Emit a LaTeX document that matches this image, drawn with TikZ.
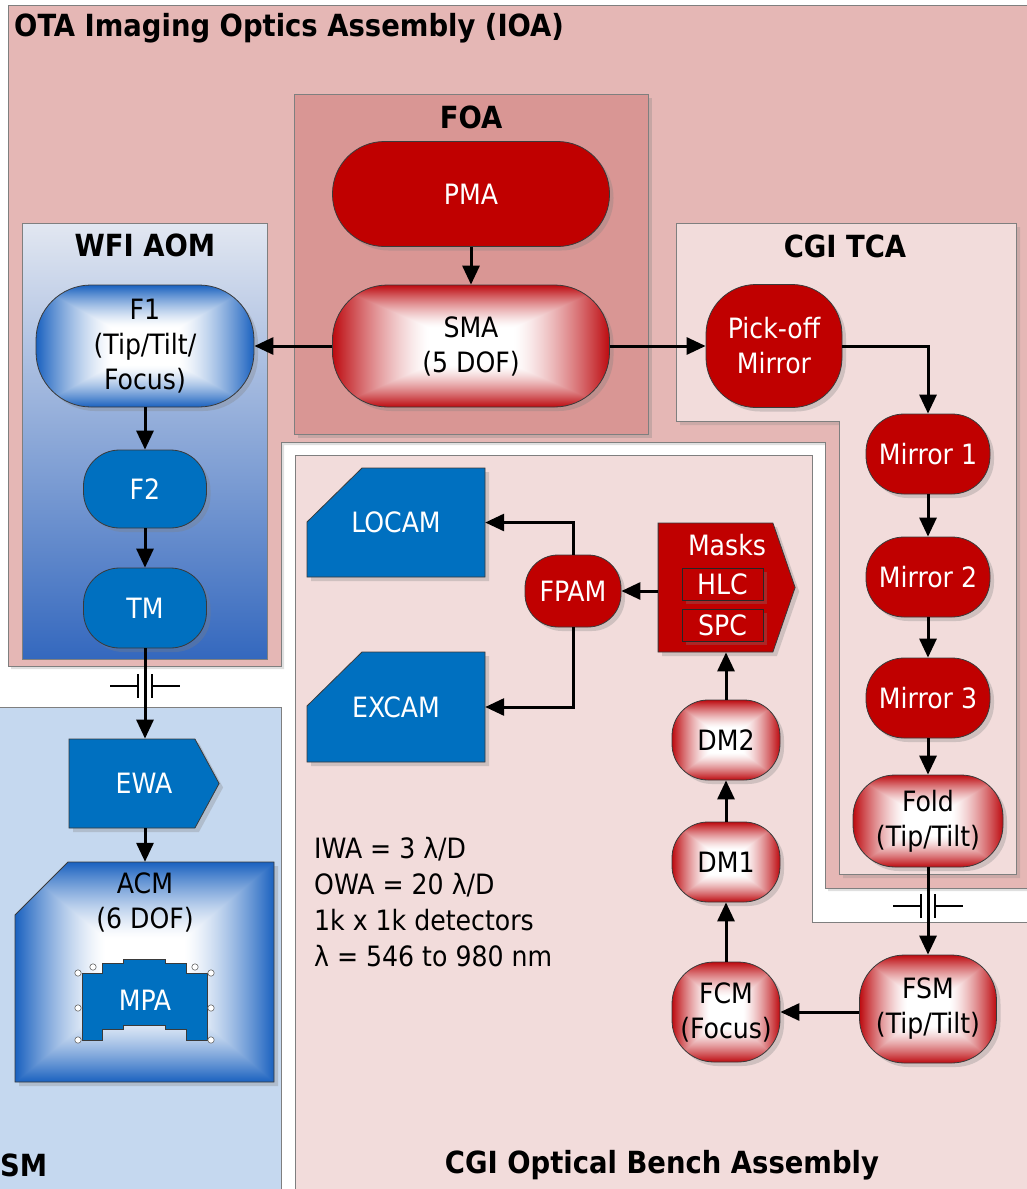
\documentclass[tikz,border=0pt]{standalone}
\usepackage{fontspec}
\setmainfont{DejaVu Sans Condensed}
\usetikzlibrary{arrows.meta,shapes.symbols,shadows}

\definecolor{ioapink}{HTML}{E5B7B5}
\definecolor{foapink}{HTML}{D99694}
\definecolor{tcapink}{HTML}{F2DCDB}
\definecolor{smblue}{HTML}{C5D8EF}
\definecolor{darkred}{HTML}{C00000}
\definecolor{vblue}{HTML}{0070C0}
\definecolor{boxedge}{HTML}{7F7F7F}
\definecolor{unitedge}{HTML}{3A3A3A}
\definecolor{aomtop}{RGB}{226,231,241}
\definecolor{aommid}{RGB}{170,190,226}
\definecolor{aombottom}{RGB}{52,104,190}

% white centre fading out to a coloured rim (max-norm, so the seams run diagonally);
% the path's bounding box covers -25bp..25bp of the shading
\pgfdeclarefunctionalshading{redshine}{\pgfpoint{-50bp}{-50bp}}{\pgfpoint{50bp}{50bp}}{}{%
  abs exch abs 2 copy lt {exch} if pop
  25 div 0.3 sub 0.7 div dup 0 lt {pop 0} if dup 1 gt {pop 1} if 1.4 exp
  dup 0.26 mul 1 exch sub exch dup 0.96 mul 1 exch sub exch 0.94 mul 1 exch sub}
\pgfdeclarefunctionalshading{blueshine}{\pgfpoint{-50bp}{-50bp}}{\pgfpoint{50bp}{50bp}}{}{%
  abs exch abs 2 copy lt {exch} if pop
  25 div 0.3 sub 0.7 div dup 0 lt {pop 0} if dup 1 gt {pop 1} if 1.4 exp
  dup 0.90 mul 1 exch sub exch dup 0.62 mul 1 exch sub exch 0.25 mul 1 exch sub}

\newcommand\unitfont{\fontsize{28}{35}\selectfont}
\newcommand\titlefont{\fontsize{30.5}{36}\selectfont\bfseries}

\begin{document}
\begin{tikzpicture}[x=1pt, y=-1pt,
    every node/.style={font=\unitfont},
    unit/.style={draw=unitedge, line width=0.8pt, align=center, inner sep=0pt,
      drop shadow={shadow xshift=4pt, shadow yshift=-4pt, opacity=0.3}},
    pill/.style={unit, rectangle, rounded corners=#1},
    pill/.default=36pt,
    redsolid/.style={fill=darkred, text=white},
    bluesolid/.style={fill=vblue, text=white},
    redglow/.style={shade, shading=redshine, text=black},
    blueglow/.style={shade, shading=blueshine, text=black},
    arrowbox/.style={unit, signal, signal to=east},
    anchorbox/.style={rectangle, inner sep=0pt, align=center},
    region/.style={draw=boxedge, line width=1pt},
    title/.style={font=\titlefont, inner sep=0pt},
    flow/.style={line width=3pt, -{Triangle[length=19pt, width=17pt]}},
    handle/.style={draw=black!60, fill=white, line width=0.6pt},
    isobreak/.pic={
      \draw[line width=2.8pt] (-7,-12) -- (-7,12) (7,-12) -- (7,12)
        (-35,0) -- (-7,0) (7,0) -- (35,0);
    }
  ]
  \useasboundingbox (0,0) rectangle (1026,1189);

  % Regions
  \draw[region, fill=ioapink, drop shadow={shadow xshift=3pt, shadow yshift=-3pt, opacity=0.25}]
    (8,5) -- (1040,5) -- (1040,888) -- (825,888) -- (825,442)
    -- (281,442) -- (281,666) -- (8,666) -- cycle;
  \draw[region, fill=smblue] (-10,707) rectangle (281,1200);
  \draw[region, fill=tcapink] (295,455) -- (812,455) -- (812,922)
    -- (1040,922) -- (1040,1200) -- (295,1200) -- cycle;
  \draw[region, fill=foapink, drop shadow={shadow xshift=4pt, shadow yshift=-4pt, opacity=0.3}]
    (294,94) rectangle (648,434);
  \draw[region, top color=aomtop, middle color=aommid, bottom color=aombottom]
    (22,223) rectangle (267,659);
  \draw[region, fill=tcapink, drop shadow={shadow xshift=4pt, shadow yshift=-4pt, opacity=0.25}]
    (676,223) -- (1016,223) -- (1016,874) -- (839,874) -- (839,421)
    -- (676,421) -- cycle;

  % Region titles
  \node[title, anchor=west] (ioa-title) at (14,28) {OTA Imaging Optics Assembly (IOA)};
  \node[title] (foa-title) at (471,117) {FOA};
  \node[title] (aom-title) at (145,245) {WFI AOM};
  \node[title] (tca-title) at (845,246) {CGI TCA};
  \node[title] (ob-title) at (662,1165) {CGI Optical Bench Assembly};
  \node[title, anchor=west] (sm-title) at (0,1165) {SM};

  % Cut-corner units
  \draw[unit, blueglow] (15,915) -- (68,862) -- (274,862) -- (274,1082) -- (15,1082) -- cycle;
  \draw[unit, bluesolid] (307,522) -- (362,468) -- (485,468) -- (485,577) -- (307,577) -- cycle;
  \draw[unit, bluesolid] (307,706) -- (362,652) -- (485,652) -- (485,762) -- (307,762) -- cycle;
  \node[anchorbox, minimum width=259pt, minimum height=220pt] (acm) at (144.5,972) {};
  \node[anchorbox, text=white, minimum width=178pt, minimum height=110pt] (locam) at (396,522.5) {LOCAM};
  \node[anchorbox, text=white, minimum width=178pt, minimum height=110pt] (excam) at (396,707) {EXCAM};
  \node[align=center] (acm-text) at (145,902) {ACM\\(6 DOF)};

  % MPA with its selection handles
  \draw[unitedge, line width=0.8pt, fill=vblue]
    (82,973) -- (102,973) -- (102,963) -- (123,963) -- (123,959) -- (165,959)
    -- (165,963) -- (186,963) -- (186,973) -- (207,973) -- (207,1040) -- (186,1040)
    -- (186,1029) -- (165,1029) -- (165,1025) -- (123,1025) -- (123,1029)
    -- (102,1029) -- (102,1040) -- (82,1040) -- cycle;
  \foreach \hx/\hy in {78/973, 78/1008, 78/1040, 211/973, 211/1008, 211/1040, 93/967, 195/967}
    \draw[handle] (\hx,\hy) circle[radius=3.2pt];
  \node[text=white] (mpa) at (145,1000) {MPA};

  % Nodes
  \node[pill=52pt, redsolid, minimum width=277pt, minimum height=105pt] (pma) at (471,194) {PMA};
  \node[pill=55pt, redglow, minimum width=277pt, minimum height=122pt] (sma) at (471,346) {SMA\\(5 DOF)};
  \node[pill=55pt, blueglow, minimum width=218pt, minimum height=122pt] (f1) at (145,346) {F1\\(Tip/Tilt/\\Focus)};
  \node[pill, bluesolid, minimum width=123pt, minimum height=78pt] (f2) at (145,489) {F2};
  \node[pill, bluesolid, minimum width=123pt, minimum height=80pt] (tm) at (145,608) {TM};
  \node[arrowbox, bluesolid, signal pointer angle=123, minimum width=150pt, minimum height=89pt] (ewa) at (132,783.5) {\hspace*{24pt}EWA};

  \node[pill=50pt, redsolid, minimum width=136pt, minimum height=123pt] (pickoff) at (774,346) {Pick-off\\Mirror};
  \node[pill=38pt, redsolid, minimum width=124pt, minimum height=80pt] (mirror1) at (928,454) {Mirror 1};
  \node[pill=38pt, redsolid, minimum width=124pt, minimum height=80pt] (mirror2) at (928,577) {Mirror 2};
  \node[pill=38pt, redsolid, minimum width=124pt, minimum height=80pt] (mirror3) at (928,698) {Mirror 3};
  \node[pill=42pt, redglow, minimum width=150pt, minimum height=92pt] (fold) at (928,821) {Fold\\(Tip/Tilt)};
  \node[pill=45pt, redglow, minimum width=137pt, minimum height=108pt] (fsm) at (928,1009) {FSM\\(Tip/Tilt)};
  \node[pill=42pt, redglow, minimum width=108pt, minimum height=100pt] (fcm) at (726,1012) {FCM\\(Focus)};
  \node[pill, redglow, minimum width=108pt, minimum height=80pt] (dm1) at (726,862) {DM1};
  \node[pill, redglow, minimum width=108pt, minimum height=80pt] (dm2) at (726,740) {DM2};

  \node[arrowbox, redsolid, signal pointer angle=142, minimum width=137pt, minimum height=129pt] (masks) at (715.5,587.5) {};
  \node[text=white] (masks-text) at (727,545) {Masks};
  \node[unit, redsolid, draw=black!85, minimum width=81pt, minimum height=32pt] (hlc) at (722.5,584) {HLC};
  \node[unit, redsolid, draw=black!85, minimum width=81pt, minimum height=32pt] (spc) at (722.5,625) {SPC};
  \node[pill=33pt, redsolid, minimum width=96pt, minimum height=72pt] (fpam) at (573,591) {FPAM};

  \node[anchor=west, align=left, inner sep=0pt, font=\fontsize{28}{36}\selectfont] (specs) at (314,902)
    {IWA = 3 λ/D\\OWA = 20 λ/D\\1k x 1k detectors\\λ = 546 to 980 nm};

  % Edges
  \draw[flow] (pma) -- (sma);
  \draw[flow] (sma) -- (f1);
  \draw[flow] (sma) -- (pickoff);
  \draw[flow] (pickoff) -| (mirror1);
  \foreach \a/\b in {mirror1/mirror2, mirror2/mirror3, mirror3/fold, f1/f2, f2/tm, fcm/dm1, dm1/dm2}
    \draw[flow] (\a) -- (\b);
  \draw[flow] (fold) -- (fsm);
  \pic at (928,906) {isobreak};
  \draw[flow] (tm.south) -- (tm.south |- ewa.north);
  \pic at (145,686) {isobreak};
  \draw[flow] (tm |- ewa.south) -- (tm |- acm.north);
  \draw[flow] (fcm.east -| fsm.west) -- (fcm.east);
  \draw[flow] (dm2.north) -- (dm2.north |- masks.south);
  \draw[flow] (masks.west |- fpam) -- (fpam.east);
  \draw[flow] (fpam.north) |- (locam.east);
  \draw[flow] (fpam.south) |- (excam.east);
\end{tikzpicture}
\end{document}
